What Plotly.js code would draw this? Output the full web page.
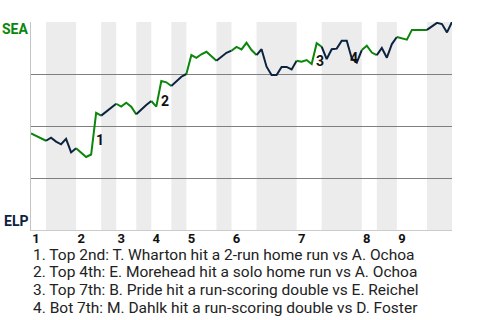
<!DOCTYPE html>
<html>
<head>
<meta charset="utf-8">
<script src="https://cdn.plot.ly/plotly-3.0.1.min.js"></script>
<style>html,body{margin:0;padding:0;background:#fff;}#chart{width:480px;height:320px;}</style>
</head>
<body>
<div id="chart"></div>
<script>
// Inning labels and the play index where each inning (top half) begins
const innings = ['1', '2', '3', '4', '5', '6', '7', '8', '9'];
const inningStarts = [0, 9, 17, 24, 31, 40, 53, 66, 73];
// Half-inning boundaries (play index): top1, bot1, top2, bot2, ... bot9, end
const halfBounds = [0, 3, 9, 14, 17, 21, 24, 28, 31, 37, 40, 45, 53, 58, 66, 69, 73, 79, 84];
// SEA win probability (%) after each play
const seaWinProb = [
  46.5, 45.3, 44.1, 42.9, 44.4, 42.5, 41.2, 43.8, 37.3, 39.3,
  37.4, 35.1, 36.3, 56.3, 55.0, 56.9, 58.9, 60.7, 59.3, 61.2,
  59.3, 55.6, 58.0, 60.1, 62.0, 59.3, 71.6, 71.0, 69.2, 71.6,
  73.7, 75.0, 84.1, 82.8, 84.5, 85.7, 83.7, 81.4, 83.3, 85.2,
  86.2, 88.0, 86.8, 90.0, 86.5, 84.1, 86.9, 78.5, 74.5, 74.5,
  78.4, 78.4, 77.2, 81.4, 80.9, 81.7, 79.8, 89.8, 88.1, 82.2,
  86.9, 87.2, 91.0, 91.0, 82.5, 80.5, 86.5, 88.6, 85.3, 84.1,
  87.5, 82.8, 89.4, 92.8, 92.3, 91.5, 96.2, 96.2, 96.2, 96.2,
  97.8, 99.6, 99.0, 95.0, 100
];
// Key events: marker number, label position (play index, win prob), description
const eventNums = ['1', '2', '3', '4'];
const eventX = [13.8, 26.8, 57.6, 64.5];
const eventY = [43.3, 62.0, 81.4, 82.7];
const eventText = [
  '1. Top 2nd: T. Wharton hit a 2-run home run vs A. Ochoa',
  '2. Top 4th: E. Morehead hit a solo home run vs A. Ochoa',
  '3. Top 7th: B. Pride hit a run-scoring double vs E. Reichel',
  '4. Bot 7th: M. Dahlk hit a run-scoring double vs D. Foster'
];
const awayTeam = 'SEA';
const homeTeam = 'ELP';

const GREEN = '#0a860a';
const NAVY = '#0c2340';
const FONT = 'Roboto, Arial, sans-serif';

const xs = seaWinProb.map((_, i) => i);
const traces = [];
const shapes = [];
for (let h = 0; h < halfBounds.length - 1; h++) {
  const a = halfBounds[h], b = halfBounds[h + 1];
  const isTop = h % 2 === 0;
  traces.push({
    x: xs.slice(a, b + 1),
    y: seaWinProb.slice(a, b + 1),
    mode: 'lines',
    line: {color: isTop ? GREEN : NAVY, width: 2},
    hoverinfo: 'skip',
    showlegend: false
  });
  if (!isTop) {
    shapes.push({
      type: 'rect', xref: 'x', yref: 'paper',
      x0: a, x1: b, y0: 0, y1: 1,
      fillcolor: '#ececec', line: {width: 0}, layer: 'below'
    });
  }
}

const annotations = [
  {xref: 'paper', yref: 'paper', x: 0, y: 0.966, xanchor: 'right', yanchor: 'middle', xshift: -1,
   text: '<b>' + awayTeam + '</b>', showarrow: false, font: {family: FONT, size: 14, color: GREEN}},
  {xref: 'paper', yref: 'paper', x: 0, y: 0.043, xanchor: 'right', yanchor: 'middle', xshift: -1,
   text: '<b>' + homeTeam + '</b>', showarrow: false, font: {family: FONT, size: 14, color: NAVY}}
];
eventNums.forEach((n, i) => {
  annotations.push({xref: 'x', yref: 'y', x: eventX[i], y: eventY[i], xanchor: 'center', yanchor: 'middle',
    text: '<b>' + n + '</b>', showarrow: false, font: {family: FONT, size: 14, color: '#111'}});
});
const textY = [-0.122, -0.204, -0.287, -0.375];
eventText.forEach((t, i) => {
  annotations.push({xref: 'paper', yref: 'paper', x: 0, y: textY[i], xanchor: 'left', yanchor: 'middle',
    text: t, showarrow: false, font: {family: FONT, size: 15.5, color: '#222'}});
});

const layout = {
  width: 480, height: 320,
  margin: {l: 31, r: 28, t: 22, b: 90},
  paper_bgcolor: '#fff', plot_bgcolor: '#fff',
  showlegend: false,
  xaxis: {
    range: [0, 84], tickmode: 'array', tickvals: inningStarts,
    ticktext: innings.map(s => '<b>' + s + '</b>'),
    ticks: '', ticklabelshift: 5, ticklabelstandoff: -4,
    showgrid: false, zeroline: false, showline: true, linecolor: '#cccccc', linewidth: 1,
    tickfont: {family: FONT, size: 13, color: '#111'}, fixedrange: true
  },
  yaxis: {
    range: [0, 100], tickmode: 'array', tickvals: [25, 50, 75, 100],
    showticklabels: false, ticks: '',
    showgrid: true, gridcolor: '#7f7f7f', gridwidth: 1,
    zeroline: false, showline: true, linecolor: '#c4c4c4', linewidth: 1, fixedrange: true
  },
  shapes: shapes,
  annotations: annotations
};

Plotly.newPlot('chart', traces, layout, {displayModeBar: false, staticPlot: true});
</script>
</body>
</html>
